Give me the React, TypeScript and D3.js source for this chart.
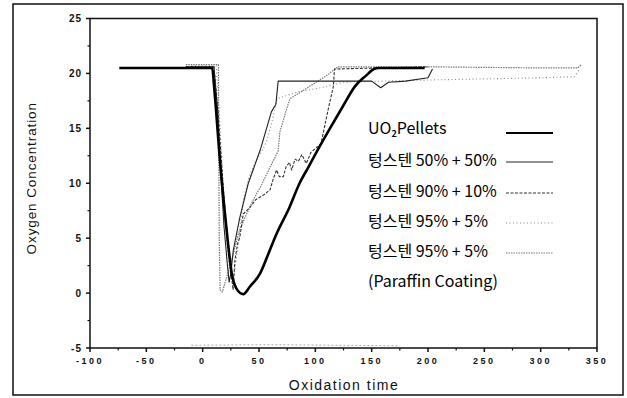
import { useEffect, useRef } from "react";
import * as d3 from "d3";

type Pt = [number, number];

// x ticks, y ticks
const xTicks = [-100, -50, 0, 50, 100, 150, 200, 250, 300, 350];
const xMinor = [-75, -25, 25, 75, 125, 175, 225, 275, 325];
const yTicks = [-5, 0, 5, 10, 15, 20, 25];
const yMinor = [-2.5, 2.5, 7.5, 12.5, 17.5, 22.5];

// UO2 pellets
const uo2: Pt[] = [
  [-74, 20.5], [8.5, 20.5], [10, 19], [12, 16.5], [15, 12.5], [19, 8], [22, 5], [25.8, 1.8],
  [30, 0.4], [36, -0.1], [42, 0.6], [51, 1.8], [58, 3.5], [65.6, 5.4], [77, 7.8],
  [86, 10], [94, 11.5], [103, 13.2], [113, 15], [125, 17.1], [135, 18.8],
  [145, 19.8], [152, 20.4], [156, 20.5], [197, 20.5],
];

// 텅스텐 50% + 50%
const w50: Pt[] = [
  [-15, 20.6], [10, 20.6], [13, 17], [16, 11], [19, 6], [22, 2.5], [23.5, 1],
  [25, 1.8], [27.2, 3.9], [33, 6.9], [40.5, 10], [51, 13], [61, 16.5], [65, 17.2],
  [67, 19.3], [120, 19.3], [150, 19.3], [158, 18.7], [165, 19.2], [180, 19.3],
  [200, 19.6], [204, 20.4],
];

// 텅스텐 90% + 10%
const w90: Pt[] = [
  [-15, 20.6], [10, 20.6], [14, 16], [18, 10], [22, 5], [25, 2], [27, 0.3],
  [28.6, 3], [31, 4.5], [33, 5.1], [36, 7.2], [42, 7.8], [47, 8.5], [51, 8.75],
  [55, 9], [59.8, 9.4], [63, 10.5], [65.6, 11.2], [68, 10.6], [71.6, 10.6],
  [74, 11.5], [77, 11.9], [79, 11.2], [82, 12.2], [85, 12], [88, 12.6], [92, 11.8],
  [96, 12.8], [105, 13.6], [112, 17], [116, 18.8], [117, 20.4], [200, 20.6],
];

// 텅스텐 95% + 5%
const w95: Pt[] = [
  [-10, 20.7], [12, 20.7], [15, 16], [18, 10], [21, 5], [24, 2], [27, 1],
  [31, 4], [36, 8.4], [41, 10.5], [47, 12], [54, 13.2], [57, 13.9], [62, 15.8],
  [66, 17.7], [72, 17.9], [84, 18.3], [105, 18.7], [125, 19.2], [160, 19.3],
  [200, 19.4], [250, 19.5], [300, 19.6], [330, 19.7], [335, 20.5],
];

// 텅스텐 95% + 5% (Paraffin Coating)
const w95p: Pt[] = [
  [-15, 20.8], [14, 20.8], [14.7, 5], [15.5, 0.3], [17.5, 0.1], [20, 1],
  [23, 2], [27, 3.5], [32, 5.5], [38, 7], [45, 8.5], [52, 9.8], [60, 11.5],
  [66.9, 12.9], [68.6, 14.7], [74.6, 16.8], [77.5, 17.7], [90, 18.5],
  [110, 19.8], [120, 20.6], [200, 20.6], [300, 20.5], [333, 20.5], [336, 20.8],
];

// faint trace along the bottom of the plot
const baseTrace: Pt[] = [[-10, -4.75], [60, -4.7], [120, -4.75], [175, -4.8]];

const legendLabels = [
  "텅스텐 50% + 50%",
  "텅스텐 90% + 10%",
  "텅스텐 95% + 5%",
  "텅스텐 95% + 5%",
];

const W = 627;
const H = 398;

export default function App() {
  const svgRef = useRef<SVGSVGElement>(null);

  useEffect(() => {
    if (!svgRef.current) return;
    const svg = d3.select(svgRef.current);
    svg.selectAll("*").remove();

    const x = d3.scaleLinear().domain([-100, 350]).range([90, 597]);
    const y = d3.scaleLinear().domain([-5, 25]).range([348, 18.5]);

    // outer frame
    svg
      .append("rect")
      .attr("x", 13)
      .attr("y", 4)
      .attr("width", 610)
      .attr("height", 391)
      .attr("fill", "white")
      .attr("stroke", "#111")
      .attr("stroke-width", 1.5);

    // plot box
    svg
      .append("rect")
      .attr("x", x(-100))
      .attr("y", y(25))
      .attr("width", x(350) - x(-100))
      .attr("height", y(-5) - y(25))
      .attr("fill", "none")
      .attr("stroke", "#111")
      .attr("stroke-width", 1.5);

    const tickFont = "'Liberation Sans', Arial, sans-serif";

    // x axis
    const gx = svg.append("g").attr("transform", `translate(0,${y(-5)})`);
    gx.selectAll("line.maj")
      .data(xTicks)
      .join("line")
      .attr("x1", (d) => x(d))
      .attr("x2", (d) => x(d))
      .attr("y1", 0)
      .attr("y2", 4)
      .attr("stroke", "#111")
      .attr("stroke-width", 1.5);
    gx.selectAll("line.min")
      .data(xMinor)
      .join("line")
      .attr("x1", (d) => x(d))
      .attr("x2", (d) => x(d))
      .attr("y1", 0)
      .attr("y2", 2.5)
      .attr("stroke", "#111")
      .attr("stroke-width", 1.2);
    gx.selectAll("text")
      .data(xTicks)
      .join("text")
      .attr("x", (d) => x(d))
      .attr("y", 16)
      .attr("text-anchor", "middle")
      .attr("font-family", tickFont)
      .attr("font-size", 9)
      .attr("font-weight", "bold")
      .attr("letter-spacing", 2.5)
      .attr("fill", "#111")
      .text((d) => String(d));

    // y axis
    const gy = svg.append("g").attr("transform", `translate(${x(-100)},0)`);
    gy.selectAll("line.maj")
      .data(yTicks)
      .join("line")
      .attr("x1", -4)
      .attr("x2", 0)
      .attr("y1", (d) => y(d))
      .attr("y2", (d) => y(d))
      .attr("stroke", "#111")
      .attr("stroke-width", 1.5);
    gy.selectAll("line.min")
      .data(yMinor)
      .join("line")
      .attr("x1", -2.5)
      .attr("x2", 0)
      .attr("y1", (d) => y(d))
      .attr("y2", (d) => y(d))
      .attr("stroke", "#111")
      .attr("stroke-width", 1.2);
    gy.selectAll("text")
      .data(yTicks)
      .join("text")
      .attr("x", -8)
      .attr("y", (d) => y(d) + 3.5)
      .attr("text-anchor", "end")
      .attr("font-family", tickFont)
      .attr("font-size", 10)
      .attr("font-weight", "bold")
      .attr("letter-spacing", 1)
      .attr("fill", "#111")
      .text((d) => String(d));

    // axis titles
    svg
      .append("text")
      .attr("transform", `translate(36,${(y(25) + y(-5)) / 2 - 5}) rotate(-90)`)
      .attr("text-anchor", "middle")
      .attr("font-family", tickFont)
      .attr("font-size", 13.5)
      .attr("letter-spacing", 0.9)
      .attr("fill", "#111")
      .text("Oxygen Concentration");
    svg
      .append("text")
      .attr("x", 344)
      .attr("y", 390)
      .attr("text-anchor", "middle")
      .attr("font-family", tickFont)
      .attr("font-size", 14)
      .attr("letter-spacing", 1.5)
      .attr("fill", "#111")
      .text("Oxidation time");

    const line = d3
      .line<Pt>()
      .x((d) => x(d[0]))
      .y((d) => y(d[1]));
    const smooth = d3
      .line<Pt>()
      .x((d) => x(d[0]))
      .y((d) => y(d[1]))
      .curve(d3.curveMonotoneX);

    const series = [
      { data: baseTrace, stroke: "#aaa", width: 1, dash: "2,2", gen: line },
      { data: w95p, stroke: "#777", width: 1.2, dash: "1.5,1", gen: line },
      { data: w95, stroke: "#888", width: 1.1, dash: "1,2.5", gen: line },
      { data: w90, stroke: "#333", width: 1.1, dash: "3,1.5", gen: line },
      { data: w50, stroke: "#222", width: 1.1, dash: null, gen: line },
      { data: uo2, stroke: "#000", width: 2.6, dash: null, gen: smooth },
    ];

    const gl = svg.append("g").attr("fill", "none");
    series.forEach((s) => {
      gl.append("path")
        .attr("d", s.gen(s.data))
        .attr("stroke", s.stroke)
        .attr("stroke-width", s.width)
        .attr("stroke-linejoin", "round")
        .attr("stroke-dasharray", s.dash);
    });

    // legend
    const legFont = "'Noto Sans CJK KR', 'Liberation Sans', sans-serif";
    const rows = [134, 166, 197, 227, 257];
    const lines = [133, 162, 193, 223, 253];
    const lg = svg.append("g");

    const uoText = lg
      .append("text")
      .attr("x", 368)
      .attr("y", rows[0])
      .attr("font-family", legFont)
      .attr("font-size", 16)
      .attr("fill", "#000");
    uoText.append("tspan").text("UO");
    uoText
      .append("tspan")
      .attr("font-size", 9)
      .attr("font-weight", "bold")
      .attr("dy", 3)
      .text("2");
    uoText.append("tspan").attr("dy", -3).text("Pellets");

    legendLabels.forEach((label, i) => {
      lg.append("text")
        .attr("x", 368)
        .attr("y", rows[i + 1])
        .attr("font-family", legFont)
        .attr("font-size", 16)
        .attr("fill", "#000")
        .text(label);
    });
    lg.append("text")
      .attr("x", 368)
      .attr("y", 287)
      .attr("font-family", legFont)
      .attr("font-size", 16)
      .attr("fill", "#000")
      .text("(Paraffin Coating)");

    const legendStyles = [series[5], series[4], series[3], series[2], series[1]];
    legendStyles.forEach((s, i) => {
      lg.append("line")
        .attr("x1", 506)
        .attr("x2", 553)
        .attr("y1", lines[i])
        .attr("y2", lines[i])
        .attr("stroke", s.stroke)
        .attr("stroke-width", i === 0 ? 2.2 : s.width)
        .attr("stroke-dasharray", s.dash);
    });
  }, []);

  return (
    <div style={{ position: "absolute", left: 0, top: 0 }}>
      <svg ref={svgRef} width={W} height={H} style={{ display: "block", background: "white" }} />
    </div>
  );
}
